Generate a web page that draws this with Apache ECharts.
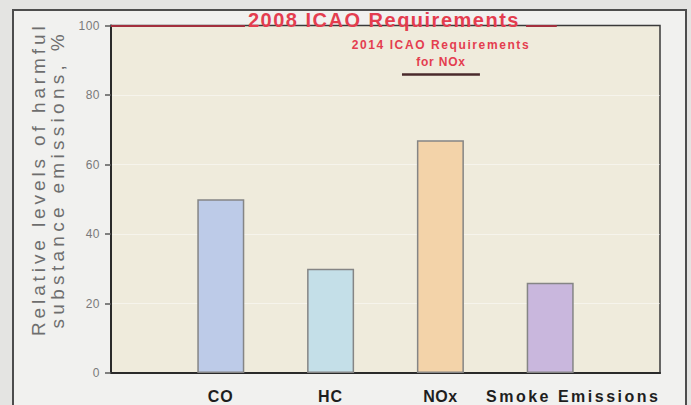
<!DOCTYPE html>
<html>
<head>
<meta charset="utf-8">
<script src="https://cdn.jsdelivr.net/npm/echarts@6/dist/echarts.min.js"></script>
<style>
  html, body { margin: 0; padding: 0; background: #e4e4e2; }
  #chart { width: 691px; height: 405px; }
</style>
</head>
<body>
<div id="chart"></div>
<script>
// Emission categories and their relative levels (% of the 2008 ICAO limit)
const categories = ['CO', 'HC', 'NOx', 'Smoke Emissions'];
const levels = [50, 30, 67, 26];
const barColors = ['#bdcbe8', '#c4dfe8', '#f3d3a9', '#c9b7dd'];

// Regulatory limits, % of the 2008 requirement
const limit2008 = 100;
const limit2014NOx = 86;

// Y-axis scale
const yMin = 0, yMax = 100, yStep = 20;

// Extra tracking (px) for the wide-set lettering
const tracking = {
  'Relative levels of harmful': 3.9,
  'substance emissions, %': 4.3,
  '2008 ICAO Requirements': 1.5,
  '2014 ICAO Requirements': 1.6,
  'for NOx': 0.8,
  'Smoke Emissions': 2.5,
  'CO': 1, 'HC': 1, 'NOx': 0.5,
  '0': 0.5, '20': 0.5, '40': 0.5, '60': 0.5, '80': 0.5, '100': 0.5
};

const red = '#e43d4f';
const font = 'Liberation Sans, Arial, sans-serif';

const chart = echarts.init(document.getElementById('chart'), null, { renderer: 'svg' });

const barData = levels.map((v, i) => ({
  value: [i + 1, v],
  itemStyle: { color: barColors[i] }
}));

chart.setOption({
  animation: false,
  backgroundColor: '#e4e4e2',
  graphic: [
    {
      type: 'rect', z: -10, silent: true,
      shape: { x: 13, y: 10, width: 673, height: 420 },
      style: { fill: '#f1f1ef', stroke: '#4d4d4d', lineWidth: 2 }
    }
  ],
  grid: {
    left: 111, right: 31, top: 25.5, bottom: 32,
    show: true,
    backgroundColor: '#efebdc',
    borderColor: '#3a3a3a',
    borderWidth: 1.5,
    outerBoundsMode: 'none'
  },
  xAxis: {
    type: 'value',
    min: 0, max: categories.length + 1, interval: 1,
    splitLine: { show: false },
    axisTick: { show: false },
    axisLine: { show: true, onZero: false, lineStyle: { color: '#2a2a2a', width: 2 } },
    axisLabel: {
      margin: 15,
      fontFamily: font, fontSize: 16, fontWeight: 'bold', color: '#1e1e1e',
      showMinLabel: true, showMaxLabel: true,
      formatter: v => {
        const name = categories[v - 1];
        if (!name) return '';
        return v === categories.length ? '{s|' + name + '}' : name;
      },
      rich: {
        s: {
          fontFamily: font, fontSize: 16, fontWeight: 'bold', color: '#1e1e1e',
          padding: [0, 0, 0, 46]
        }
      }
    }
  },
  yAxis: {
    type: 'value',
    min: yMin, max: yMax, interval: yStep,
    name: 'Relative levels of harmful\nsubstance emissions, %',
    nameLocation: 'middle',
    nameRotate: 90,
    nameGap: 44,
    nameTextStyle: {
      fontFamily: font, fontSize: 19, color: '#6e6e6e',
      lineHeight: 19, padding: [0, 0, 0, 40]
    },
    axisLine: { show: true, lineStyle: { color: '#2a2a2a', width: 2 } },
    axisTick: { show: true, length: 6, lineStyle: { color: '#5a5a5a', width: 1.5 } },
    axisLabel: { margin: 11, fontFamily: font, fontSize: 12, color: '#7a7a7a' },
    splitLine: {
      show: true, showMinLine: false, showMaxLine: false,
      lineStyle: { color: 'rgba(255,255,255,0.45)', width: 1 }
    }
  },
  series: [
    {
      type: 'bar',
      barWidth: 47,
      data: barData,
      itemStyle: { borderColor: '#858585', borderWidth: 1.5 },
      markLine: {
        silent: true,
        symbol: 'none',
        data: [
          [
            {
              coord: [0, limit2008],
              lineStyle: { color: '#a3303e', width: 2, type: 'solid' },
              label: {
                show: true, position: 'end', distance: 3,
                formatter: '2008 ICAO Requirements',
                fontFamily: font, fontSize: 20, fontWeight: 'bold', color: red,
                verticalAlign: 'bottom', lineHeight: 11
              }
            },
            { coord: [1.22, limit2008] }
          ],
          [
            {
              coord: [3.78, limit2008],
              lineStyle: { color: '#a3303e', width: 2, type: 'solid' },
              label: { show: false }
            },
            { coord: [4.06, limit2008] }
          ],
          [
            {
              coord: [2.65, limit2014NOx],
              lineStyle: { color: '#4a2a2c', width: 2.5, type: 'solid' },
              label: {
                show: true, position: 'insideMiddleTop', distance: 4,
                formatter: '2014 ICAO Requirements\nfor NOx',
                fontFamily: font, fontSize: 12, fontWeight: 'bold', color: red,
                lineHeight: 17
              }
            },
            { coord: [3.36, limit2014NOx] }
          ]
        ]
      }
    }
  ]
});

// Widen the letter spacing of the drawn text elements
function applyTracking() {
  document.querySelectorAll('#chart text').forEach(t => {
    const s = tracking[t.textContent];
    if (s != null) t.style.letterSpacing = s + 'px';
  });
}
applyTracking();
chart.on('finished', applyTracking);
</script>
</body>
</html>
